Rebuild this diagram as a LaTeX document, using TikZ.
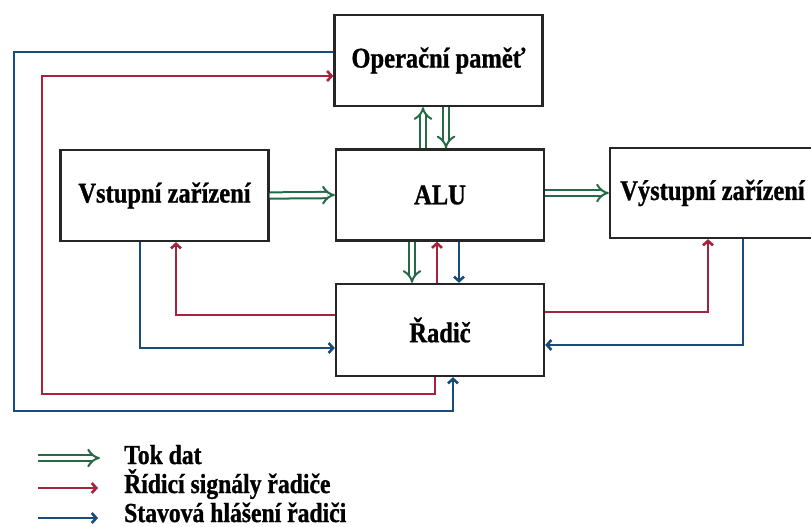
\documentclass[tikz,border=0pt]{standalone}
\usepackage{fontspec}
\setmainfont{Liberation Serif Bold}[FakeStretch=0.86,FakeBold=1]
\usetikzlibrary{arrows.meta}
\definecolor{tokdat}{RGB}{38,105,70}
\definecolor{ridici}{RGB}{165,35,60}
\definecolor{stavova}{RGB}{25,75,125}
\begin{document}
\begin{tikzpicture}[x=1pt,y=-1pt]
\tikzstyle{every node}+=[inner sep=0pt]
\tikzstyle{blok}=[draw=black!85,line width=2.3pt,font=\fontsize{28.5}{32}\selectfont,minimum width=208pt,minimum height=91pt]
\tikzstyle{popis}=[anchor=base west,font=\fontsize{27.5}{30}\selectfont]
\tikzstyle{data}=[draw=tokdat,line width=2pt,double=white,double distance=4.3pt,-Implies]
\tikzstyle{ridic}=[draw=ridici,line width=2.2pt,-{Straight Barb[length=4.5pt,width=10pt,line width=2.6pt]}]
\tikzstyle{stav}=[draw=stavova,line width=2.2pt,-{Straight Barb[length=4.5pt,width=10pt,line width=2.6pt]}]
\useasboundingbox (0,0) rectangle (811,527);
\node [blok] (pamet) at (438.5,60.5) {Operační paměť};
\node [blok] (vstup) at (164.5,195.5) {Vstupní zařízení};
\node [blok] (alu) at (440,195) {ALU};
\node [blok,minimum width=205pt,minimum height=90pt] (vystup) at (712.5,193) {Výstupní zařízení};
\node [blok,minimum height=92pt] (radic) at (440,330) {Řadič};
\draw [data] (vstup.east) -- (alu.west);
\draw [data] (alu.east |- vystup.west) -- (vystup.west);
\draw [data] (alu.north -| 423,0) -- (pamet.south -| 423,0);
\draw [data] (pamet.south -| 446,0) -- (alu.north -| 446,0);
\draw [data] (alu.south -| 412,0) -- (radic.north -| 412,0);
\draw [ridic] (radic.north -| 437,0) -- (alu.south -| 437,0);
\draw [stav] (alu.south -| 459,0) -- (radic.north -| 459,0);
\draw [ridic] (radic.west |- 0,315) -| (vstup.south -| 176,0);
\draw [stav] (vstup.south -| 140,0) |- (radic.west |- 0,348);
\draw [ridic] (radic.east |- 0,312) -| (vystup.south -| 708,0);
\draw [stav] (vystup.south -| 743,0) |- (radic.east |- 0,345);
\draw [ridic] (radic.south -| 435,0) |- (42,394) |- (pamet.west |- 0,76);
\draw [stav] (pamet.west |- 0,52) -| (14,411) -| (radic.south -| 453,0);
\node [popis] (ltok) at (124,464) {Tok dat};
\node [popis] (lridic) at (124,493) {Řídicí signály řadiče};
\node [popis] (lstav) at (124,522) {Stavová hlášení řadiči};
\draw [data] ([xshift=-86pt,yshift=6pt]ltok.base west) -- ([xshift=-24pt,yshift=6pt]ltok.base west);
\draw [ridic] ([xshift=-86pt,yshift=5pt]lridic.base west) -- ([xshift=-26pt,yshift=5pt]lridic.base west);
\draw [stav] ([xshift=-86pt,yshift=4pt]lstav.base west) -- ([xshift=-26pt,yshift=4pt]lstav.base west);
\end{tikzpicture}
\end{document}
